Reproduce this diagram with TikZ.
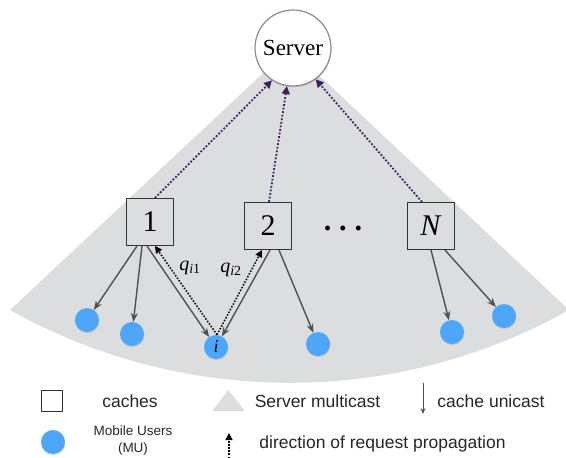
\documentclass[tikz,border=0pt]{standalone}
\usepackage{fontspec}
\setmainfont{Liberation Serif}
\newfontfamily\legendfont{Liberation Sans}
\usetikzlibrary{arrows.meta,calc,shadows}

\definecolor{sector}{HTML}{DCDDDF}
\definecolor{mublue}{HTML}{4DA6FA}
\definecolor{arrowgray}{HTML}{4B5159}
\definecolor{reqpurple}{HTML}{3B2160}

\begin{document}
\begin{tikzpicture}[x=1pt,y=1pt,
  cache/.style={draw=black!80, line width=1.1pt, minimum size=47pt, inner sep=0pt, font=\fontsize{30}{30}\selectfont},
  mu/.style={circle, fill=mublue, minimum size=24pt, inner sep=0pt, drop shadow={shadow xshift=0.4pt, shadow yshift=-1pt, opacity=0.25}},
  unicast/.style={draw=arrowgray, line width=1.4pt, -{Stealth[length=9pt,width=7pt]}},
  req/.style={draw=reqpurple, line width=1.8pt, dash pattern=on 1.8pt off 1.8pt, -{Triangle[length=8pt,width=8pt]}},
  reqblk/.style={draw=black, line width=1.5pt, dash pattern=on 1.5pt off 1.6pt, -{Triangle[length=7pt,width=7pt]}},
  legend/.style={font=\legendfont\fontsize{17.5}{20}\selectfont, text=black!85, inner sep=0pt, anchor=base}]
\useasboundingbox (0,0) rectangle (566,-458);

% multicast area of the server
\fill[sector] (290,-48) -- (10,-310) arc[start angle=240.8, end angle=299.2, radius=573] -- cycle;

\node[circle, draw=black!45, fill=white, line width=1.2pt, minimum size=76pt, inner sep=0pt, font=\fontsize{23}{23}\selectfont, drop shadow={shadow xshift=0.5pt, shadow yshift=-1.2pt, opacity=0.3}] (srv) at (293,-48) {Server};

% caches
\node[cache] (c1) at (150,-222) {1};
\node[cache] (c2) at (268,-226) {2};
\node[cache] (cN) at (431,-226) {\textit{N}};
\node[font=\fontsize{30}{30}\selectfont\bfseries, inner sep=0pt] (dots) at (343,-228) {.\hspace{8pt}.\hspace{8pt}.};

% mobile users
\node[mu] (u1) at (87,-320) {};
\node[mu] (u2) at (132,-334) {};
\node[mu, font=\fontsize{18}{18}\selectfont\itshape] (mi) at (216,-347) {i};
\node[mu] (u3) at (318,-344) {};
\node[mu] (u4) at (452,-332) {};
\node[mu] (u5) at (504,-316) {};

\draw[unicast] ([xshift=-13pt]c1.south) -- (u1);
\draw[unicast] ([xshift=-8pt]c1.south) -- (u2);
\draw[unicast] ([xshift=-3pt]c1.south) -- (mi);
\draw[unicast] ([xshift=2pt]c2.south) -- (mi);
\draw[unicast] ([xshift=11pt]c2.south) -- (u3);
\draw[unicast] (cN.south) -- (u4);
\draw[unicast] ([xshift=14pt]cN.south) -- (u5);

% requests
\draw[reqblk] ([xshift=1pt]mi.north) -- ([xshift=5pt]c1.south);
\draw[reqblk] ([xshift=1pt]mi.north) -- ([xshift=-6pt]c2.south);
\draw[req] ([xshift=5pt]c1.north) -- (srv.237);
\draw[req] ([xshift=1pt]c2.north) -- (srv.261);
\draw[req] ([xshift=-9pt]cN.north) -- (srv.306);

\node[font=\fontsize{20}{20}\selectfont] (q1) at (190,-268) {\textit{q}\textsubscript{\textit{i}1}};
\node[font=\fontsize{20}{20}\selectfont] (q2) at (231,-270) {\textit{q}\textsubscript{\textit{i}2}};

% legend
\node[cache, minimum size=21pt, line width=1pt] (lgc) at (52,-401) {};
\node[legend] (lgct) at (130,-407) {caches};
\fill[black!30, opacity=0.5] (213,-411.2) -- (244,-411.2) -- (228.5,-391) -- cycle;
\fill[sector] (213,-410) -- (244,-410) -- (228.5,-390) -- cycle;
\node[legend] (lgst) at (317.5,-407) {Server multicast};
\coordinate (lgua) at (423,-383);
\coordinate (lgub) at (423,-414);
\draw[unicast, line width=1pt, -{Stealth[length=6pt,width=5pt]}] (lgua) -- (lgub);
\node[legend] (lgut) at (491,-407) {cache unicast};
\node[mu] (lgmu) at (53,-442) {};
\node[legend, anchor=center, font=\legendfont\fontsize{13.5}{17}\selectfont, align=center] (lgmut) at (133,-441) {Mobile Users\\(MU)};
\coordinate (lgra) at (229,-458);
\coordinate (lgrb) at (229,-433);
\draw[reqblk] (lgra) -- (lgrb);
\node[legend] (lgrt) at (382.5,-448) {direction of request propagation};
\end{tikzpicture}
\end{document}
